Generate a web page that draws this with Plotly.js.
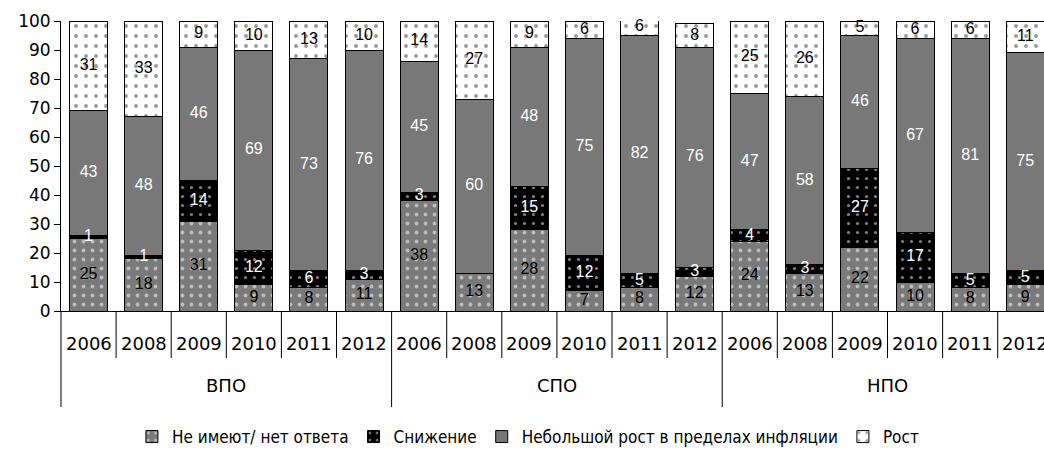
<!DOCTYPE html>
<html>
<head>
<meta charset="utf-8">
<script src="https://cdn.plot.ly/plotly-3.0.1.min.js"></script>
<style>html,body{margin:0;padding:0;background:#fff;}#chart{width:1044px;height:450px;}</style>
</head>
<body>
<div id="chart"></div>
<script>
// ---- data ----
const groups = ['ВПО', 'СПО', 'НПО'];
const years = ['2006', '2008', '2009', '2010', '2011', '2012'];
const seriesNames = ['Не имеют/ нет ответа', 'Снижение', 'Небольшой рост в пределах инфляции', 'Рост'];
// values per bar, in order ВПО 2006..2012, СПО 2006..2012, НПО 2006..2012
const noAnswer  = [25, 18, 31, 9, 8, 11,   38, 13, 28, 7, 8, 12,   24, 13, 22, 10, 8, 9];
const decrease  = [1, 1, 14, 12, 6, 3,     3, 0, 15, 12, 5, 3,     4, 3, 27, 17, 5, 5];
const smallRise = [43, 48, 46, 69, 73, 76, 45, 60, 48, 75, 82, 76, 47, 58, 46, 67, 81, 75];
const rise      = [31, 33, 9, 10, 13, 10,  14, 27, 9, 6, 6, 8,     25, 26, 5, 6, 6, 11];
const yTicks = [0, 10, 20, 30, 40, 50, 60, 70, 80, 90, 100];

// ---- layout constants ----
const W = 1044, H = 450;
const mL = 61, mR = 0, mT = 21, mB = 139;
const plotH = H - mT - mB;
const nCat = groups.length * years.length;
const r0 = -0.5, r1 = 17.34;
const px2paperY = px => -px / plotH;
const x2paper = x => (x - r0) / (r1 - r0);

const xIdx = [];
for (let i = 0; i < nCat; i++) xIdx.push(i);

const barFont = {family: 'Liberation Sans, Arial, sans-serif', size: 16};
const labels = arr => arr.map(v => v === 0 ? '' : String(v));

const styles = [
  {bg: '#7a7a7a', fg: '#ffffff', shape: '.', size: 9, solidity: 0.14, text: '#000000'},
  {bg: '#000000', fg: '#ffffff', shape: '.', size: 9, solidity: 0.10, text: '#ffffff'},
  {bg: '#787878', fg: '#8a8a8a', shape: '', size: 4, solidity: 0.3, text: '#ffffff'},
  {bg: '#ffffff', fg: '#333333', shape: '.', size: 10, solidity: 0.12, text: '#000000'}
];
const seriesData = [noAnswer, decrease, smallRise, rise];

const traces = seriesData.map((vals, k) => ({
  type: 'bar',
  name: seriesNames[k],
  x: xIdx,
  y: vals,
  textposition: 'none',
  hoverinfo: 'skip',
  marker: {
    color: styles[k].bg,
    line: {color: '#000000', width: 1},
    pattern: {shape: styles[k].shape, bgcolor: styles[k].bg, fgcolor: styles[k].fg,
              size: styles[k].size, solidity: styles[k].solidity, fillmode: 'overlay'}
  }
}));

// value labels at the middle of each stacked segment
const base = xIdx.map(() => 0);
seriesData.forEach((vals, k) => {
  const mids = vals.map((v, i) => base[i] + v / 2);
  vals.forEach((v, i) => { base[i] += v; });
  traces.push({
    type: 'scatter', mode: 'text', x: xIdx, y: mids, text: labels(vals),
    textposition: 'middle center', textfont: Object.assign({}, barFont, {color: styles[k].text}),
    showlegend: false, hoverinfo: 'skip', cliponaxis: false
  });
});

// separators & labels below the axis
const shapes = [];
const annotations = [];
const yearSepLen = 47, groupSepLen = 96;
for (let i = 0; i <= nCat; i++) {
  const xp = x2paper(i - 0.5);
  if (xp > 1.0001) continue;
  const isGroup = (i % years.length === 0);
  shapes.push({type: 'line', xref: 'paper', yref: 'paper', x0: xp, x1: xp,
    y0: 0, y1: px2paperY(isGroup ? groupSepLen : yearSepLen),
    line: {color: '#000000', width: 1}});
}
const tickFont = {family: 'DejaVu Sans, sans-serif', size: 18, color: '#000000'};
groups.forEach((g, gi) => {
  years.forEach((yv, yi) => {
    const idx = gi * years.length + yi;
    annotations.push({xref: 'x', yref: 'paper', x: idx, y: px2paperY(32), text: yv,
      showarrow: false, xanchor: 'center', yanchor: 'middle', font: tickFont});
  });
  annotations.push({xref: 'x', yref: 'paper', x: gi * years.length + (years.length - 1) / 2,
    y: px2paperY(74), text: g, showarrow: false, xanchor: 'center', yanchor: 'middle', font: tickFont});
});

const layout = {
  width: W, height: H,
  margin: {l: mL, r: mR, t: mT, b: mB, pad: 0, autoexpand: false},
  paper_bgcolor: '#ffffff', plot_bgcolor: '#ffffff',
  barmode: 'stack',
  bargap: 0.31,
  showlegend: true,
  legend: {orientation: 'h', x: 0.475, xanchor: 'center', y: px2paperY(126), yanchor: 'middle',
    font: {family: 'DejaVu Sans Condensed, DejaVu Sans, sans-serif', size: 17, color: '#000000'},
    itemwidth: 30, traceorder: 'normal', tracegroupgap: 0},
  xaxis: {range: [r0, r1], showticklabels: false, ticks: '', showgrid: false, zeroline: false,
    showline: true, linecolor: '#000000', linewidth: 1, fixedrange: true, automargin: false},
  yaxis: {range: [0, 100], tickvals: yTicks, ticktext: yTicks.map(String), ticks: 'outside', ticklen: 6,
    tickcolor: '#000000', showgrid: false, zeroline: false, showline: true, linecolor: '#000000',
    linewidth: 1, tickfont: {family: 'DejaVu Sans, sans-serif', size: 17, color: '#000000'},
    fixedrange: true, automargin: false},
  shapes: shapes,
  annotations: annotations
};

Plotly.newPlot('chart', traces, layout, {displayModeBar: false, staticPlot: true});
</script>
</body>
</html>
